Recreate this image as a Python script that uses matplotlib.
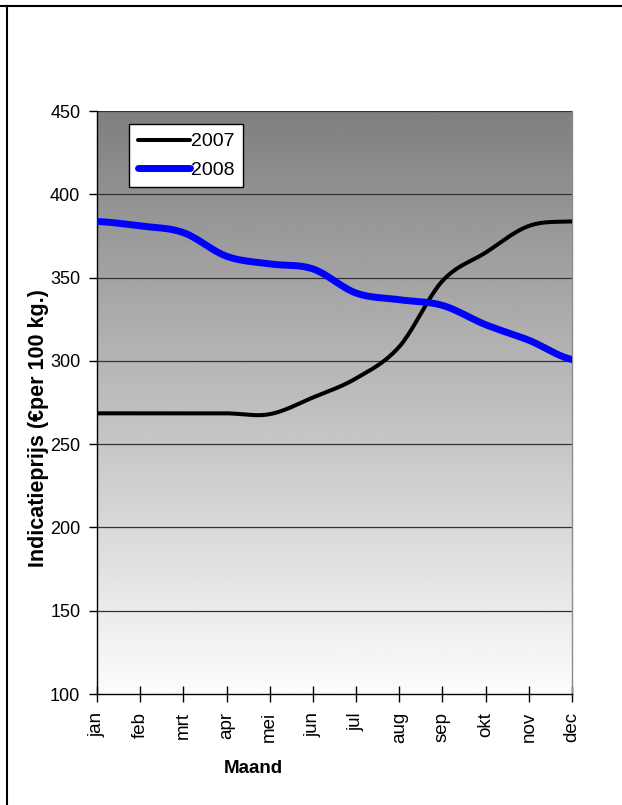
import numpy as np
import matplotlib.pyplot as plt
from matplotlib.lines import Line2D

maanden = ['jan', 'feb', 'mrt', 'apr', 'mei', 'jun', 'jul', 'aug', 'sep', 'okt', 'nov', 'dec']
prijs2007 = [268.5, 268.5, 268.5, 268.5, 268.0, 278.0, 289.5, 308.5, 348.0, 365.0, 381.0, 383.7]
prijs2008 = [383.7, 381.0, 377.0, 362.8, 358.2, 355.2, 340.7, 336.7, 333.3, 321.7, 312.4, 300.8]


def smooth(xs, ys, n=20):
    # catmull-rom curve door de punten, zoals de excel vloeiende lijn
    xs = np.asarray(xs, float)
    ys = np.asarray(ys, float)
    px = np.concatenate([[2 * xs[0] - xs[1]], xs, [2 * xs[-1] - xs[-2]]])
    py = np.concatenate([[ys[0]], ys, [ys[-1]]])
    outx, outy = [], []
    t = np.linspace(0, 1, n, endpoint=False)
    for i in range(1, len(px) - 2):
        for p, out in ((px, outx), (py, outy)):
            p0, p1, p2, p3 = p[i - 1], p[i], p[i + 1], p[i + 2]
            out.extend(0.5 * ((2 * p1) + (-p0 + p2) * t + (2 * p0 - 5 * p1 + 4 * p2 - p3) * t ** 2
                              + (-p0 + 3 * p1 - 3 * p2 + p3) * t ** 3))
    outx.append(xs[-1])
    outy.append(ys[-1])
    return np.array(outx), np.array(outy)


plt.rcParams['font.family'] = ['Liberation Sans', 'DejaVu Sans']

fig = plt.figure(figsize=(6.22, 8.05), dpi=100)
ax = fig.add_axes([97 / 622, 1 - 694 / 805, 475 / 622, 583 / 805])

# gradient achtergrond, grijs boven naar wit onder
grad = np.linspace(0.5, 0.99, 256).reshape(-1, 1)
ax.imshow(grad, cmap='gray', vmin=0, vmax=1, aspect='auto', extent=[0, 1, 0, 1],
          origin='upper', transform=ax.transAxes, zorder=0)

x = np.arange(len(maanden))
sx, sy = smooth(x, prijs2007)
ax.plot(sx, sy, color='black', linewidth=2.9, label='2007', zorder=3, solid_capstyle='round')
sx, sy = smooth(x, prijs2008)
ax.plot(sx, sy, color='#0000ff', linewidth=5, label='2008', zorder=3, solid_capstyle='round')

ax.set_xlim(0, 11)
ax.set_ylim(100, 450)
ax.set_yticks(range(100, 451, 50))
ax.set_xticks(x)
ax.set_xticklabels(maanden, rotation=90)
for yv in range(150, 451, 50):
    ax.axhline(yv, color='#333333', linewidth=0.9, zorder=1)

ax.tick_params(axis='y', direction='out', length=6, width=1, labelsize=13, pad=6)
ax.tick_params(axis='x', direction='inout', length=12, width=1, labelsize=13.5, pad=7)
ax.spines['left'].set_color('black')
ax.spines['bottom'].set_color('black')
ax.spines['right'].set_color('#8c8c8c')
ax.spines['top'].set_visible(False)
for s in ax.spines.values():
    s.set_linewidth(1)

fig.text(39 / 622, 1 - 428 / 805, 'Indicatieprijs (€per 100 kg.)', rotation=90,
         fontsize=15.5, fontweight='bold', ha='center', va='center')
fig.text(253 / 622, 1 - 768 / 805, 'Maand', fontsize=13.5, fontweight='bold',
         ha='center', va='center')

leg = ax.legend(loc='upper left', bbox_to_anchor=(129 / 622, 1 - 124 / 805),
                bbox_transform=fig.transFigure, fontsize=14,
                frameon=True, fancybox=False, edgecolor='black', framealpha=1,
                handlelength=2.7, handletextpad=0.05, borderpad=0.45, labelspacing=0.55,
                borderaxespad=0)
leg.get_frame().set_linewidth(1)

# rand om de figuur
fig.add_artist(Line2D([0, 1], [1 - 6 / 805, 1 - 6 / 805], color='black', linewidth=1.5,
                      transform=fig.transFigure))
fig.add_artist(Line2D([7 / 622, 7 / 622], [0, 1 - 6 / 805], color='black', linewidth=1.5,
                      transform=fig.transFigure))

plt.savefig('out.png', dpi=100)
